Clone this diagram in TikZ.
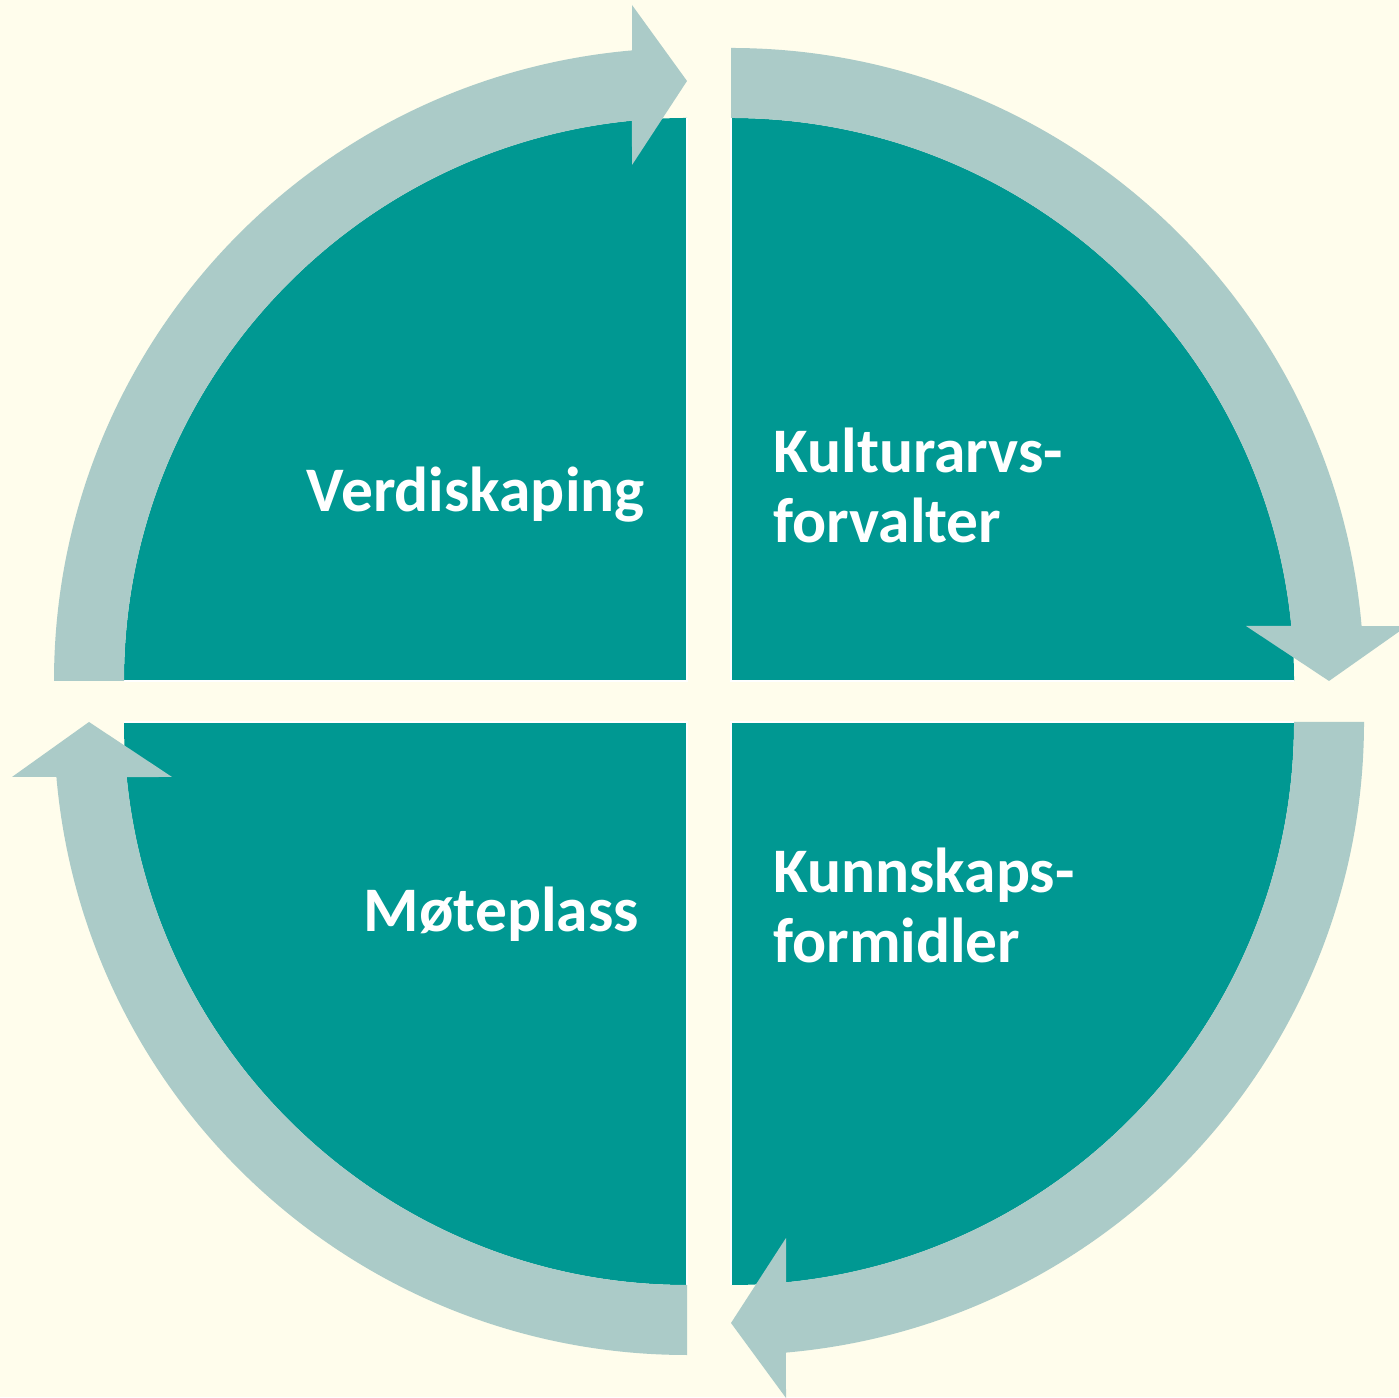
\documentclass[tikz,border=0pt]{standalone}
\usepackage{fontspec}
\setmainfont{Carlito}
\definecolor{bg}{RGB}{255,253,236}
\definecolor{tealfill}{RGB}{0,152,146}
\definecolor{bandfill}{RGB}{171,203,200}
\begin{document}
\begin{tikzpicture}[x=1pt,y=1pt,
  sector/.style={fill=tealfill},
  edge/.style={draw=white,line width=1.2pt},
  arrowband/.style={fill=bandfill},
  lbl/.style={text=white,inner sep=0pt,font=\bfseries\fontsize{63.5}{70}\selectfont}]
\fill[bg] (0,0) rectangle (1399,1397);
\useasboundingbox (0,0) rectangle (1399,1397);
\coordinate (ctl) at (687,716);
\coordinate (ctr) at (731,716);
\coordinate (cbr) at (731,675);
\coordinate (cbl) at (687,675);
% sectors
\fill[sector] (ctl) -- ([shift={(ctl)}]180:563) arc[start angle=180,end angle=90,radius=563] -- cycle;
\fill[sector] (ctr) -- ([shift={(ctr)}]90:563) arc[start angle=90,end angle=0,radius=563] -- cycle;
\fill[sector] (cbr) -- ([shift={(cbr)}]0:563) arc[start angle=0,end angle=-90,radius=563] -- cycle;
\fill[sector] (cbl) -- ([shift={(cbl)}]270:563) arc[start angle=270,end angle=180,radius=563] -- cycle;
\draw[edge] ([shift={(ctl)}]180:563) -- (ctl) -- ([shift={(ctl)}]90:563);
\draw[edge] ([shift={(ctr)}]90:563) -- (ctr) -- ([shift={(ctr)}]0:563);
\draw[edge] ([shift={(cbr)}]0:563) -- (cbr) -- ([shift={(cbr)}]-90:563);
\draw[edge] ([shift={(cbl)}]270:563) -- (cbl) -- ([shift={(cbl)}]180:563);
% circular arrows
\fill[arrowband] ([shift={(ctl)}]180:633) arc[start angle=180,end angle=94.98,radius=633]
  -- (632,1392) -- (687,1316) -- (632,1232)
  -- ([shift={(ctl)}]95.61:563) arc[start angle=95.61,end angle=180,radius=563] -- cycle;
\fill[arrowband] ([shift={(ctr)}]90:633) arc[start angle=90,end angle=4.98,radius=633]
  -- (1407,771) -- (1329,716) -- (1246,771)
  -- ([shift={(ctr)}]5.61:563) arc[start angle=5.61,end angle=90,radius=563] -- cycle;
\fill[arrowband] ([shift={(cbr)}]0:633) arc[start angle=0,end angle=-85.02,radius=633]
  -- (786,-1) -- (731,74) -- (786,159)
  -- ([shift={(cbr)}]-84.39:563) arc[start angle=-84.39,end angle=0,radius=563] -- cycle;
\fill[arrowband] ([shift={(cbl)}]270:633) arc[start angle=270,end angle=184.98,radius=633]
  -- (12,620) -- (89,675) -- (172,620)
  -- ([shift={(cbl)}]185.61:563) arc[start angle=185.61,end angle=270,radius=563] -- cycle;
% labels
\node[lbl,anchor=base east] (verdi) at (645,885) {Verdiskaping};
\node[lbl,anchor=base east] (mote) at (639,465) {Møteplass};
\node[lbl,anchor=base west,align=left] (kultur) at (773,854) {Kulturarvs-\\forvalter};
\node[lbl,anchor=base west,align=left] (kunn) at (773,434) {Kunnskaps-\\formidler};
\end{tikzpicture}
\end{document}
